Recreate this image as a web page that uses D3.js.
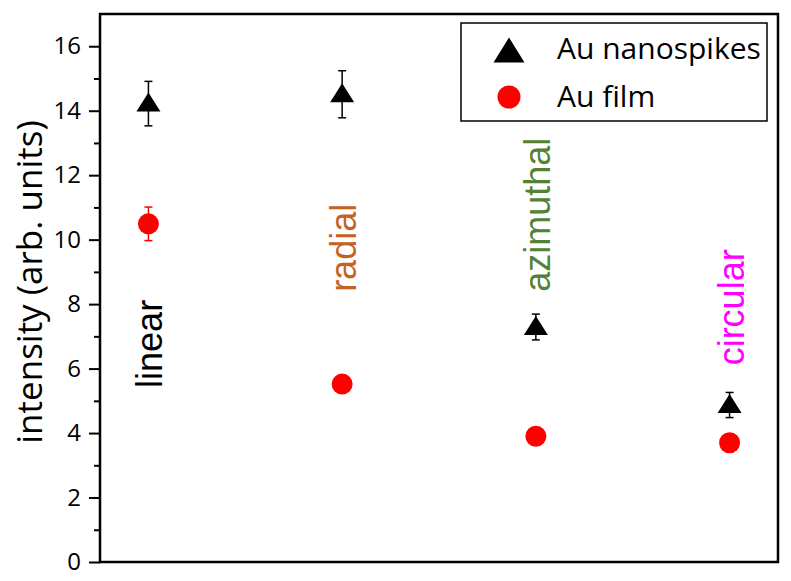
<!DOCTYPE html>
<html>
<head>
<meta charset="utf-8">
<script src="https://cdn.jsdelivr.net/npm/d3@7"></script>
<style>
  body { margin: 0; background: #fff; }
</style>
</head>
<body>
<svg id="chart"></svg>
<script>
// polarization categories and label colours
const categories = ["linear", "radial", "azimuthal", "circular"];
const labelColors = ["#000000", "#c5621f", "#548235", "#ff00ff"];
// where the rotated category labels start (in intensity units)
const labelStart = [5.4, 8.38, 8.38, 6.1];

// Au nanospikes (triangles)
const spikesValues = [14.22, 14.51, 7.29, 4.87];
const spikesErrors = [0.69, 0.73, 0.4, 0.39];

// Au film (circles)
const filmValues = [10.49, 5.52, 3.9, 3.7];
const filmErrors = [0.52, 0.15, 0.15, 0.15];

const yTicks = d3.range(0, 17, 1);

const width = 791;
const height = 581;
const marginTop = 14;
const marginRight = 13;
const marginBottom = 19;
const marginLeft = 100;

const svg = d3.select("#chart")
  .attr("width", width)
  .attr("height", height)
  .attr("viewBox", [0, 0, width, height]);

const x = d3.scalePoint()
  .domain(categories)
  .range([marginLeft, width - marginRight])
  .padding(0.25);

const y = d3.scaleLinear()
  .domain([0, 17])
  .range([height - marginBottom, marginTop]);

// triangle with the data point a bit below the middle, like Origin draws it
const triangle = (w, h) => `M0,${-h * 0.58}L${w / 2},${h * 0.42}L${-w / 2},${h * 0.42}Z`;

// frame
svg.append("rect")
  .attr("x", marginLeft)
  .attr("y", marginTop)
  .attr("width", width - marginLeft - marginRight)
  .attr("height", height - marginTop - marginBottom)
  .attr("fill", "none")
  .attr("stroke", "#000")
  .attr("stroke-width", 2.5);

// y axis
svg.append("g")
  .attr("transform", `translate(${marginLeft},0)`)
  .call(d3.axisLeft(y)
    .tickValues(yTicks)
    .tickSize(0)
    .tickPadding(19)
    .tickFormat(d => d % 2 === 0 ? d : ""))
  .call(g => g.select(".domain").remove())
  .call(g => g.selectAll(".tick line")
    .attr("x2", d => d % 2 === 0 ? -11 : -6)
    .attr("stroke", "#000")
    .attr("stroke-width", 2))
  .call(g => g.selectAll(".tick text")
    .attr("fill", "#000")
    .attr("font-family", "Open Sans")
    .attr("font-size", 24));

// y axis title
svg.append("text")
  .attr("transform", `translate(42,${(marginTop + height - marginBottom) / 2 - 6}) rotate(-90)`)
  .attr("text-anchor", "middle")
  .attr("font-family", "Open Sans")
  .attr("font-size", 35)
  .attr("fill", "#000")
  .text("intensity (arb. units)");

// category labels
svg.append("g")
  .selectAll("text")
  .data(categories)
  .join("text")
  .attr("transform", (d, i) => `translate(${x(d) + 14},${y(labelStart[i])}) rotate(-90)`)
  .attr("font-family", "Liberation Sans, Arial")
  .attr("font-size", 36)
  .attr("fill", (d, i) => labelColors[i])
  .text(d => d);

// error bars
const drawErrors = (values, errors, color) => {
  const g = svg.append("g").attr("stroke", color).attr("stroke-width", 1.5);
  g.selectAll("line.v")
    .data(categories)
    .join("line")
    .attr("class", "v")
    .attr("x1", d => x(d))
    .attr("x2", d => x(d))
    .attr("y1", (d, i) => y(values[i] + errors[i]))
    .attr("y2", (d, i) => y(values[i] - errors[i]));
  for (const sign of [1, -1]) {
    g.append("g")
      .selectAll("line")
      .data(categories)
      .join("line")
      .attr("x1", d => x(d) - 4)
      .attr("x2", d => x(d) + 4)
      .attr("y1", (d, i) => y(values[i] + sign * errors[i]))
      .attr("y2", (d, i) => y(values[i] + sign * errors[i]));
  }
};
drawErrors(spikesValues, spikesErrors, "#000");
drawErrors(filmValues, filmErrors, "#ff0000");

// markers
svg.append("g")
  .selectAll("path")
  .data(categories)
  .join("path")
  .attr("transform", (d, i) => `translate(${x(d)},${y(spikesValues[i])})`)
  .attr("d", triangle(24, 19))
  .attr("fill", "#000");

svg.append("g")
  .selectAll("circle")
  .data(categories)
  .join("circle")
  .attr("cx", d => x(d))
  .attr("cy", (d, i) => y(filmValues[i]))
  .attr("r", 10.5)
  .attr("fill", "#ff0000");

// legend
const legend = svg.append("g").attr("transform", "translate(461,23)");
legend.append("rect")
  .attr("width", 306)
  .attr("height", 98)
  .attr("fill", "#fff")
  .attr("stroke", "#000")
  .attr("stroke-width", 1.5);
legend.append("path")
  .attr("transform", "translate(48,29)")
  .attr("d", triangle(31, 25))
  .attr("fill", "#000");
legend.append("circle")
  .attr("cx", 48)
  .attr("cy", 74)
  .attr("r", 11.5)
  .attr("fill", "#ff0000");
legend.selectAll("text")
  .data(["Au nanospikes", "Au film"])
  .join("text")
  .attr("x", 96)
  .attr("y", (d, i) => 36 + i * 48)
  .attr("font-family", "Open Sans")
  .attr("font-size", 30)
  .attr("fill", "#000")
  .text(d => d);
</script>
</body>
</html>
